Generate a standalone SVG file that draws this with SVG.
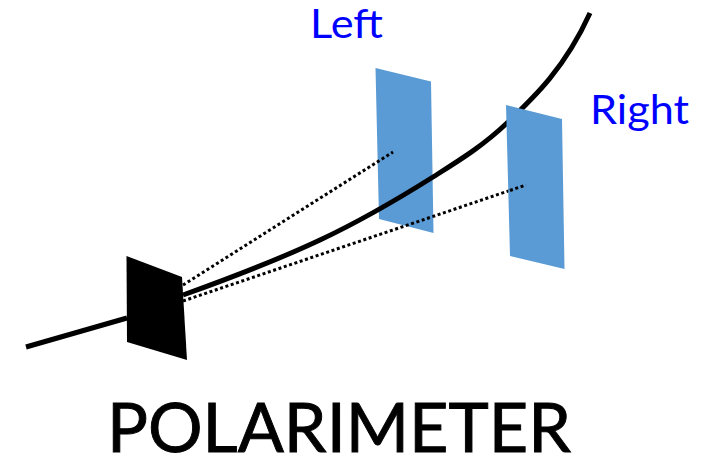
<svg xmlns="http://www.w3.org/2000/svg" width="704" height="459" viewBox="0 0 704 459">
<style>
.panel{fill:#5b9bd5}
.beam{fill:none;stroke:#000;stroke-width:5}
.dot{fill:none;stroke:#000;stroke-width:3;stroke-dasharray:3 2.6}
.side{font-family:Lato,"Open Sans",sans-serif;font-size:40px;fill:#0000ff}
.title{font-family:Lato,"Open Sans",sans-serif;font-size:67px;fill:#000;stroke:#000;stroke-width:.9}
</style>
<rect width="704" height="459" fill="#fff"/>
<g id="left-panel"><polygon class="panel" points="375.5,68 431,81.5 433.5,233 379,219"/></g>
<g id="connectors">
<path class="beam" d="M26,347 L127,318 M183,295 C228.700,278.600 274.300,261.500 320,240 C357.700,222.300 395.300,200.700 433,177 C457.700,161.400 482.300,146.500 507,123 C534.700,96.700 565,68 590,13"/>
<path class="dot" d="M183,285 L393,152"/>
<path class="dot" d="M183,301 L526,185"/>
</g>
<g id="right-panel"><polygon class="panel" points="506,105 562,119 564.500,269 510,256"/><path class="dot" d="M510,190.500 L526,185"/></g>
<g id="polarimeter"><polygon fill="#000" points="126.500,256 182,277 187,360 127,342"/></g>
<text class="side" x="310" y="38" textLength="73" lengthAdjust="spacingAndGlyphs">Left</text>
<text class="side" x="590" y="124" textLength="99" lengthAdjust="spacingAndGlyphs">Right</text>
<text class="title" x="107" y="452" textLength="464" lengthAdjust="spacingAndGlyphs">POLARIMETER</text>
</svg>
